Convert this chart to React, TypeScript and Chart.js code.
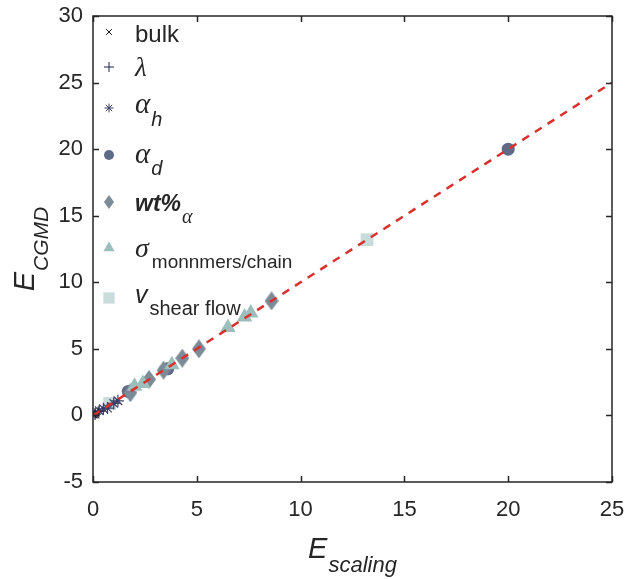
import React, { useEffect, useRef } from 'react';
import { Chart, registerables } from 'chart.js';
import { drawPoint } from 'chart.js/helpers';

Chart.register(...registerables);

// ---- data ----
const xTickValues = [0, 5, 10, 15, 20, 25];
const yTickValues = [-5, 0, 5, 10, 15, 20, 25, 30];

const refX = [0, 25];
const refY = [0, 25];

const bulkX = [0.05];
const bulkY = [0.05];

const lambdaX = [0.1, 0.25];
const lambdaY = [0.15, 0.3];

const alphaHX = [0.1, 0.3, 0.5, 0.7, 1.0, 1.2];
const alphaHY = [0.1, 0.35, 0.5, 0.55, 0.9, 1.1];

const alphaDX = [1.7, 3.6, 20];
const alphaDY = [1.8, 3.5, 20];

const wtX = [1.8, 2.7, 3.4, 4.3, 5.1, 8.6];
const wtY = [1.7, 2.7, 3.4, 4.3, 5.0, 8.6];

const sigmaX = [2.0, 2.4, 3.8, 6.5, 7.3, 7.6];
const sigmaY = [2.2, 2.4, 3.8, 6.6, 7.4, 7.7];

const shearX = [0.8, 13.2];
const shearY = [0.9, 13.2];

// ---- styles ----
const AXIS = '#262626';
const C_BULK = '#111111';
const C_LAMBDA = '#1f2544';
const C_AH = '#3a3d66';
const C_AD = '#5f6a86';
const C_WT = '#7b8b98';
const C_SIG = '#9dbfbc';
const C_SH = '#c8dcdc';
const C_REF = '#d8302c';

const SANS = '"Liberation Sans", Arial, sans-serif';
const SERIF = '"Liberation Serif", "Times New Roman", serif';

function makeDiamond(w: number, h: number, color: string): HTMLCanvasElement {
  const c = document.createElement('canvas');
  c.width = w;
  c.height = h;
  const g = c.getContext('2d')!;
  g.fillStyle = color;
  g.beginPath();
  g.moveTo(w / 2, 0);
  g.lineTo(w, h / 2);
  g.lineTo(w / 2, h);
  g.lineTo(0, h / 2);
  g.closePath();
  g.fill();
  return c;
}

const pts = (xs: number[], ys: number[]) => xs.map((x, i) => ({ x, y: ys[i] }));

type Seg = { t: string; f: string; by: number; gap?: number };
const legendRows: { y: number; marker: (ctx: CanvasRenderingContext2D, x: number, y: number) => void; segs: Seg[] }[] = [];

const framePlugin = {
  id: 'frameAndText',
  afterDraw(chart: any) {
    const ctx: CanvasRenderingContext2D = chart.ctx;
    const { left, right, top, bottom } = chart.chartArea;
    const xs = chart.scales.x;
    const ys = chart.scales.y;
    ctx.save();
    ctx.strokeStyle = AXIS;
    ctx.lineWidth = 1.5;
    ctx.strokeRect(left, top, right - left, bottom - top);
    const tl = 6;
    ctx.beginPath();
    xTickValues.forEach((v) => {
      const px = Math.round(xs.getPixelForValue(v)) + 0.5;
      ctx.moveTo(px, bottom);
      ctx.lineTo(px, bottom - tl);
      ctx.moveTo(px, top);
      ctx.lineTo(px, top + tl);
    });
    yTickValues.forEach((v) => {
      const py = Math.round(ys.getPixelForValue(v)) + 0.5;
      ctx.moveTo(left, py);
      ctx.lineTo(left + tl, py);
      ctx.moveTo(right, py);
      ctx.lineTo(right - tl, py);
    });
    ctx.stroke();

    // axis titles
    ctx.fillStyle = AXIS;
    ctx.textBaseline = 'alphabetic';
    const cx = (left + right) / 2;
    ctx.font = `italic 29px ${SANS}`;
    const wE = ctx.measureText('E').width;
    ctx.font = `italic 22px ${SANS}`;
    const wS = ctx.measureText('scaling').width;
    const x0 = cx - (wE + 1 + wS) / 2;
    ctx.font = `italic 29px ${SANS}`;
    ctx.textAlign = 'left';
    ctx.fillText('E', x0, 558);
    ctx.font = `italic 22px ${SANS}`;
    ctx.fillText('scaling', x0 + wE + 1, 572);

    const cy = (top + bottom) / 2;
    ctx.save();
    ctx.translate(34, cy);
    ctx.rotate(-Math.PI / 2);
    ctx.font = `italic 29px ${SANS}`;
    const wE2 = ctx.measureText('E').width;
    ctx.font = `italic 21px ${SANS}`;
    const wC = ctx.measureText('CGMD').width;
    const s0 = -(wE2 + 1 + wC) / 2;
    ctx.font = `italic 29px ${SANS}`;
    ctx.fillText('E', s0, 0);
    ctx.font = `italic 21px ${SANS}`;
    ctx.fillText('CGMD', s0 + wE2 + 1, 14);
    ctx.restore();

    // legend
    const mx = 109;
    const tx = 135;
    legendRows.forEach((row) => {
      row.marker(ctx, mx, row.y);
      let x = tx;
      ctx.fillStyle = AXIS;
      ctx.textAlign = 'left';
      ctx.textBaseline = 'alphabetic';
      row.segs.forEach((s) => {
        x += s.gap || 0;
        ctx.font = s.f;
        ctx.fillText(s.t, x, s.by);
        x += ctx.measureText(s.t).width;
      });
    });
    ctx.restore();
  },
};

export default function App() {
  const ref = useRef<HTMLCanvasElement | null>(null);
  useEffect(() => {
    const diamondBig = makeDiamond(14, 19, C_WT);
    const diamondSmall = makeDiamond(10, 14, C_WT);

    const pm = (style: any, radius: number, fill: string, stroke: string, bw: number) =>
      (ctx: CanvasRenderingContext2D, x: number, y: number) => {
        ctx.save();
        ctx.fillStyle = fill;
        ctx.strokeStyle = stroke;
        ctx.lineWidth = bw;
        drawPoint(ctx, { pointStyle: style, radius, rotation: 0, borderWidth: bw } as any, x, y);
        ctx.restore();
      };

    legendRows.length = 0;
    legendRows.push(
      { y: 32, marker: pm('crossRot', 4, C_BULK, C_BULK, 1), segs: [{ t: 'bulk', f: `24px ${SANS}`, by: 42 }] },
      { y: 67, marker: pm('cross', 5, C_LAMBDA, C_LAMBDA, 1), segs: [{ t: 'λ', f: `italic 27px ${SERIF}`, by: 76 }] },
      {
        y: 108,
        marker: pm('star', 4.5, C_AH, C_AH, 1),
        segs: [
          { t: 'α', f: `italic 29px ${SERIF}`, by: 113 },
          { t: 'h', f: `italic 20px ${SANS}`, by: 126, gap: 1 },
        ],
      },
      {
        y: 155,
        marker: pm('circle', 5, C_AD, C_AD, 0),
        segs: [
          { t: 'α', f: `italic 29px ${SERIF}`, by: 163 },
          { t: 'd', f: `italic 20px ${SANS}`, by: 175, gap: 1 },
        ],
      },
      {
        y: 202,
        marker: (ctx, x, y) => ctx.drawImage(diamondSmall, x - 5, y - 7),
        segs: [
          { t: 'wt%', f: `italic bold 23px ${SANS}`, by: 211 },
          { t: 'α', f: `italic 20px ${SERIF}`, by: 223, gap: 1 },
        ],
      },
      {
        y: 248,
        marker: pm('triangle', 6.5, C_SIG, C_SIG, 0),
        segs: [
          { t: 'σ', f: `italic 28px ${SERIF}`, by: 257 },
          { t: 'monnmers/chain', f: `19px ${SANS}`, by: 268, gap: 3 },
        ],
      },
      {
        y: 298,
        marker: pm('rect', 8, C_SH, C_SH, 0),
        segs: [
          { t: 'v', f: `italic 25px ${SANS}`, by: 303 },
          { t: 'shear flow', f: `20px ${SANS}`, by: 315, gap: 2 },
        ],
      }
    );

    const chart = new Chart(ref.current!, {
      type: 'scatter',
      data: {
        datasets: [
          {
            label: 'ref',
            data: pts(refX, refY),
            showLine: true,
            borderColor: C_REF,
            borderWidth: 2.5,
            borderDash: [8, 7],
            pointRadius: 0,
            fill: false,
          } as any,
          {
            label: 'bulk',
            data: pts(bulkX, bulkY),
            pointStyle: 'crossRot',
            pointRadius: 5,
            borderColor: C_BULK,
            borderWidth: 1.2,
          },
          {
            label: 'lambda',
            data: pts(lambdaX, lambdaY),
            pointStyle: 'cross',
            pointRadius: 5,
            borderColor: C_LAMBDA,
            borderWidth: 1.2,
          },
          {
            label: 'alpha_h',
            data: pts(alphaHX, alphaHY),
            pointStyle: 'star',
            pointRadius: 6,
            borderColor: C_AH,
            borderWidth: 1.2,
          },
          {
            label: 'v',
            data: pts(shearX, shearY),
            pointStyle: 'rect',
            pointRadius: 9,
            backgroundColor: C_SH,
            borderWidth: 0,
          },
          {
            label: 'sigma',
            data: pts(sigmaX, sigmaY),
            pointStyle: 'triangle',
            pointRadius: 9,
            backgroundColor: C_SIG,
            borderWidth: 0,
          },
          {
            label: 'wt',
            data: pts(wtX, wtY),
            pointStyle: diamondBig as any,
            pointRadius: 9,
            backgroundColor: C_WT,
            borderWidth: 0,
          },
          {
            label: 'alpha_d',
            data: pts(alphaDX, alphaDY),
            pointStyle: 'circle',
            pointRadius: 6.5,
            backgroundColor: C_AD,
            borderWidth: 0,
          },
        ],
      },
      options: {
        responsive: false,
        animation: false,
        devicePixelRatio: 1,
        layout: { padding: { top: 16, right: 15, bottom: 0, left: 0 } },
        plugins: { legend: { display: false }, tooltip: { enabled: false } },
        scales: {
          x: {
            type: 'linear',
            min: 0,
            max: 25,
            afterFit: (s: any) => {
              s.height = 97;
              s.paddingLeft = 0;
              s.paddingRight = 0;
            },
            afterBuildTicks: (s: any) => {
              s.ticks = xTickValues.map((v) => ({ value: v }));
            },
            grid: { display: false, drawTicks: false },
            border: { display: false },
            ticks: {
              color: AXIS,
              padding: 15,
              maxRotation: 0,
              font: { family: SANS, size: 22 },
            },
          },
          y: {
            type: 'linear',
            min: -5,
            max: 30,
            afterFit: (s: any) => {
              s.width = 93;
              s.paddingTop = 0;
              s.paddingBottom = 0;
            },
            afterBuildTicks: (s: any) => {
              s.ticks = yTickValues.map((v) => ({ value: v }));
            },
            grid: { display: false, drawTicks: false },
            border: { display: false },
            ticks: {
              color: AXIS,
              padding: 10,
              font: { family: SANS, size: 22 },
            },
          },
        },
      },
      plugins: [framePlugin],
    });
    return () => chart.destroy();
  }, []);

  return (
    <div style={{ position: 'absolute', left: 0, top: 0, width: 627, height: 579, background: '#fff' }}>
      <canvas ref={ref} width={627} height={579} style={{ display: 'block' }} />
    </div>
  );
}
